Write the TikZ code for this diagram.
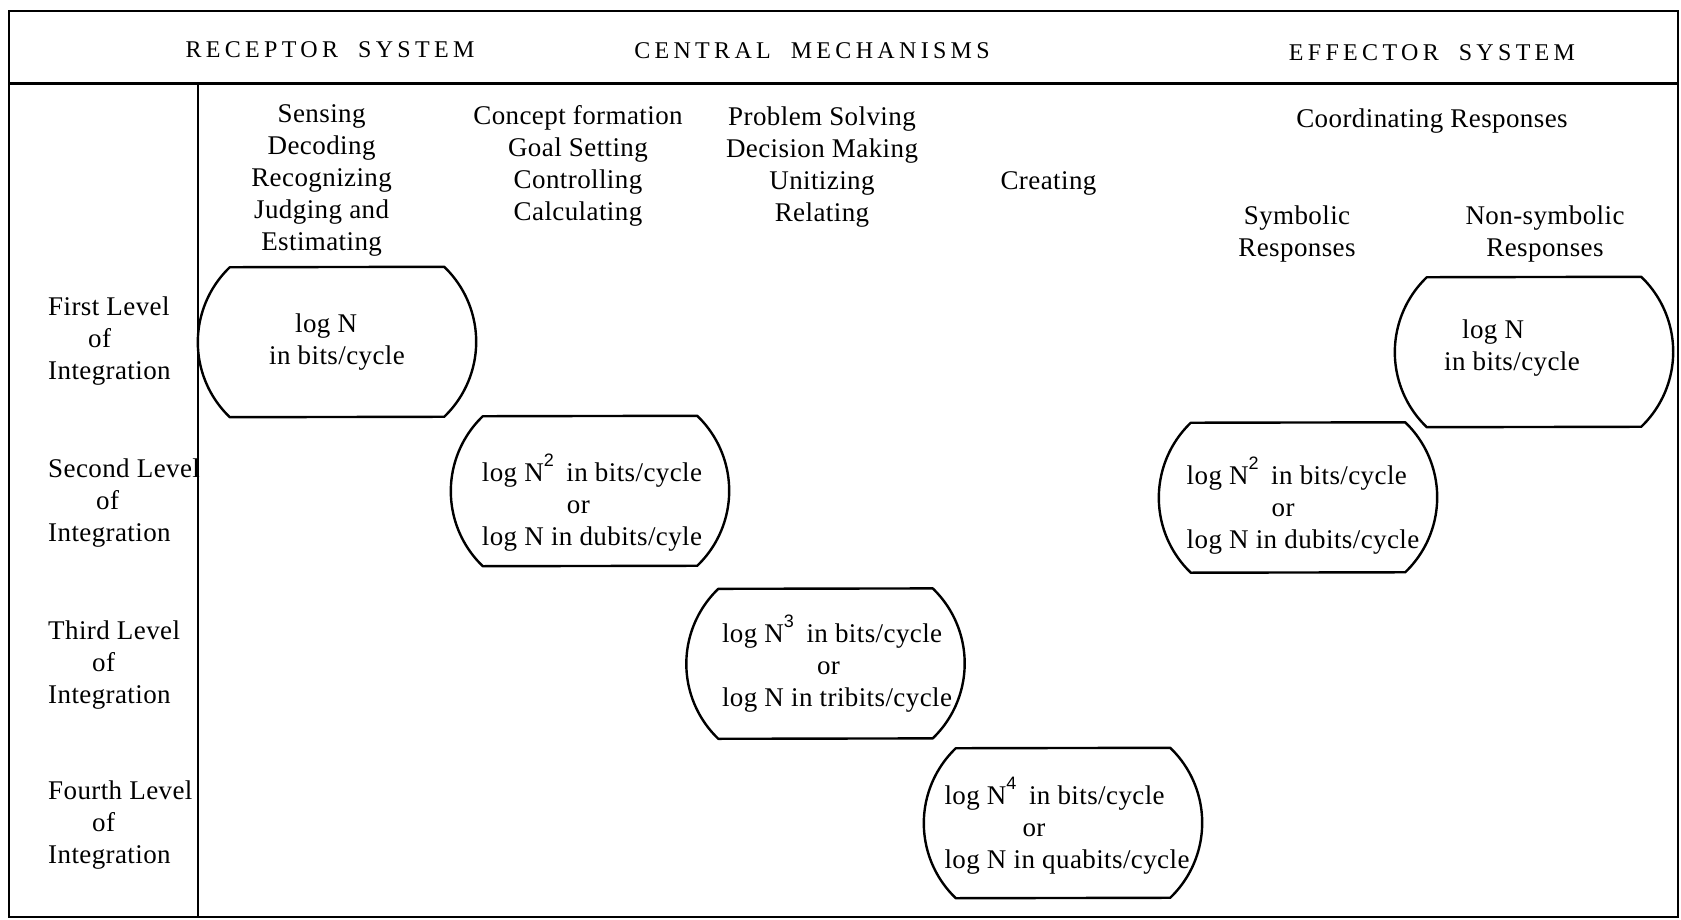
\documentclass[tikz,border=0pt]{standalone}
\usepackage{fontspec}
\setmainfont[LetterSpace=1.5]{Liberation Serif}
\setsansfont{Liberation Sans}
\newfontfamily\capsfont[LetterSpace=18]{Liberation Serif}
\usetikzlibrary{calc}

% raised exponent as set in the chart
\newcommand\expo[1]{\raisebox{0.55em}{\sffamily\fontsize{18}{18}\selectfont #1}\hspace{0.2em}}

% flat-topped box with bulging circular sides, drawn round a named node
\newcommand\lensoutline[1]{%
  \draw[lensline] ($(#1.north east)+(-32pt,0pt)$)
    arc[start angle=46.2, end angle=-46.2, radius=103.9pt]
    -- ($(#1.south west)+(32pt,0pt)$)
    arc[start angle=226.2, end angle=133.8, radius=103.9pt] -- cycle;}

\begin{document}
\begin{tikzpicture}[x=1pt,y=-1pt,
  every node/.style={font=\fontsize{27}{32}\selectfont, inner sep=0pt},
  head/.style={font=\capsfont\fontsize{24}{28}\selectfont},
  coltext/.style={align=center},
  rowlabel/.style={align=left, anchor=west},
  lens/.style={minimum width=278pt, minimum height=150pt},
  lensline/.style={line width=2.4pt, line join=round},
  boxtext/.style={align=left},
  rule/.style={line width=2.6pt}]

\useasboundingbox (0,0) rectangle (1681,920);

% table frame
\draw[rule] (9,11) rectangle (1678,917);
\draw[line width=3pt] (9,84) -- (1678,84);
\draw[rule] (198,84) -- (198,917);

% header
\node[head] (rec) at (330,50) {RECEPTOR\hspace{20pt}SYSTEM};
\node[head] (cen) at (812,51) {CENTRAL\hspace{20pt}MECHANISMS};
\node[head] (eff) at (1432,53) {EFFECTOR\hspace{20pt}SYSTEM};

% column headings
\node[coltext] (sense) at (321.6,180.6) {Sensing\\Decoding\\Recognizing\\Judging and\\Estimating};
\node[coltext] (concept) at (578,165.6) {Concept formation\\Goal Setting\\Controlling\\Calculating};
\node[coltext] (problem) at (822,166.7) {Problem Solving\\Decision Making\\Unitizing\\Relating};
\node (create) at (1048.5,183.2) {Creating};
\node (coord) at (1432,121.2) {Coordinating Responses};
\node[coltext] (symb) at (1297,233.7) {Symbolic\\Responses};
\node[coltext] (nonsymb) at (1545,233.7) {Non-symbolic\\Responses};

% row labels
\node[rowlabel] (lv1) at (48,341.5) {First Level\\\hspace*{40pt}of\\Integration};
\node[rowlabel] (lv2) at (48,503.5) {Second Level\\\hspace*{48pt}of\\Integration};
\node[rowlabel] (lv3) at (48,665.5) {Third Level\\\hspace*{44pt}of\\Integration};
\node[rowlabel] (lv4) at (48,825) {Fourth Level\\\hspace*{44pt}of\\Integration};

% boxes
\node[lens] (b1) at (337,342) {};
\node[lens] (b2) at (590,491) {};
\node[lens] (b3) at (825.5,663.6) {};
\node[lens] (b4) at (1063,823) {};
\node[lens] (b5) at (1534,352) {};
\node[lens] (b6) at (1298,497.5) {};
\foreach \b in {b1,b2,b3,b4,b5,b6} {\lensoutline{\b}}

\node[boxtext] (t1) at (337,342.5) {\hspace*{26pt}log N\\in bits/cycle};
\node[boxtext] (t2) at (592,503) {log N\expo{2} in bits/cycle\\\hspace*{85pt}or\\log N in dubits/cyle};
\node[boxtext] (t3) at (837,664) {log N\expo{3} in bits/cycle\\\hspace*{95pt}or\\log N in tribits/cycle};
\node[boxtext] (t4) at (1067,825.5) {log N\expo{4} in bits/cycle\\\hspace*{78pt}or\\log N in quabits/cycle};
\node[boxtext] (t5) at (1512,348) {\hspace*{18pt}log N\\in bits/cycle};
\node[boxtext] (t6) at (1303,505.5) {log N\expo{2} in bits/cycle\\\hspace*{85pt}or\\log N in dubits/cycle};
\end{tikzpicture}
\end{document}
